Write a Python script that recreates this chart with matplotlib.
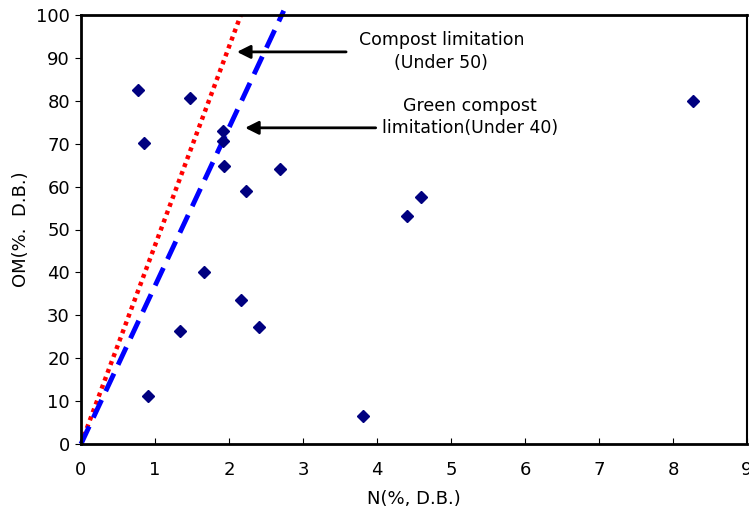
import matplotlib.pyplot as plt

# 散佈資料 N(%) vs OM(%)
n_pct = [0.77, 0.85, 1.47, 1.92, 1.92, 1.93, 2.23, 2.69, 1.66, 2.16,
         1.34, 2.40, 0.90, 3.81, 4.40, 4.60, 8.27]
om_pct = [82.5, 70.2, 80.7, 73.0, 70.7, 64.8, 59.0, 64.1, 40.0, 33.5,
          26.4, 27.3, 11.3, 6.6, 53.1, 57.6, 79.9]

# 限制線
compost_x = [0, 2.16]
compost_y = [0, 100]
green_x = [0, 2.74]
green_y = [0, 101]

plt.rcParams['font.family'] = ['DejaVu Sans']

fig = plt.figure(figsize=(7.49, 5.12), dpi=100)
ax = fig.add_axes([81/749, 68/512, 666/749, 429/512])

ax.plot(compost_x, compost_y, color='#FF0000', linestyle=(0, (0.9, 1.0)), lw=3.2)
ax.plot(green_x, green_y, color='#0000FF', linestyle=(0, (4, 2)), lw=3.5, clip_on=False)
ax.plot(n_pct, om_pct, 'D', color='#000080', markersize=6, linestyle='none')

ax.set_xlim(0, 9)
ax.set_ylim(0, 100)
ax.set_xticks(range(0, 10))
ax.set_yticks(range(0, 101, 10))
ax.tick_params(axis='x', direction='in', length=4, labelsize=13, pad=12)
ax.tick_params(axis='y', direction='out', length=4, labelsize=13, pad=4)
for s in ax.spines.values():
    s.set_linewidth(2)
ax.spines['right'].set_linewidth(1.5)

ax.set_xlabel('N(%, D.B.)', fontsize=13, labelpad=8)
ax.set_ylabel('OM(%.  D.B.)', fontsize=13, labelpad=4)

arrow = dict(arrowstyle='-|>,head_length=0.8,head_width=0.4', color='black', lw=2)
ax.annotate('', xy=(2.07, 91.4), xytext=(3.62, 91.4), arrowprops=arrow)
ax.annotate('', xy=(2.18, 73.7), xytext=(4.02, 73.7), arrowprops=arrow)
ax.text(4.87, 91.5, 'Compost limitation\n(Under 50)', ha='center', va='center',
        fontsize=12.5, linespacing=1.3)
ax.text(5.26, 76.2, 'Green compost\nlimitation(Under 40)', ha='center', va='center',
        fontsize=12.5, linespacing=1.3)

plt.savefig('out.png', dpi=100)
